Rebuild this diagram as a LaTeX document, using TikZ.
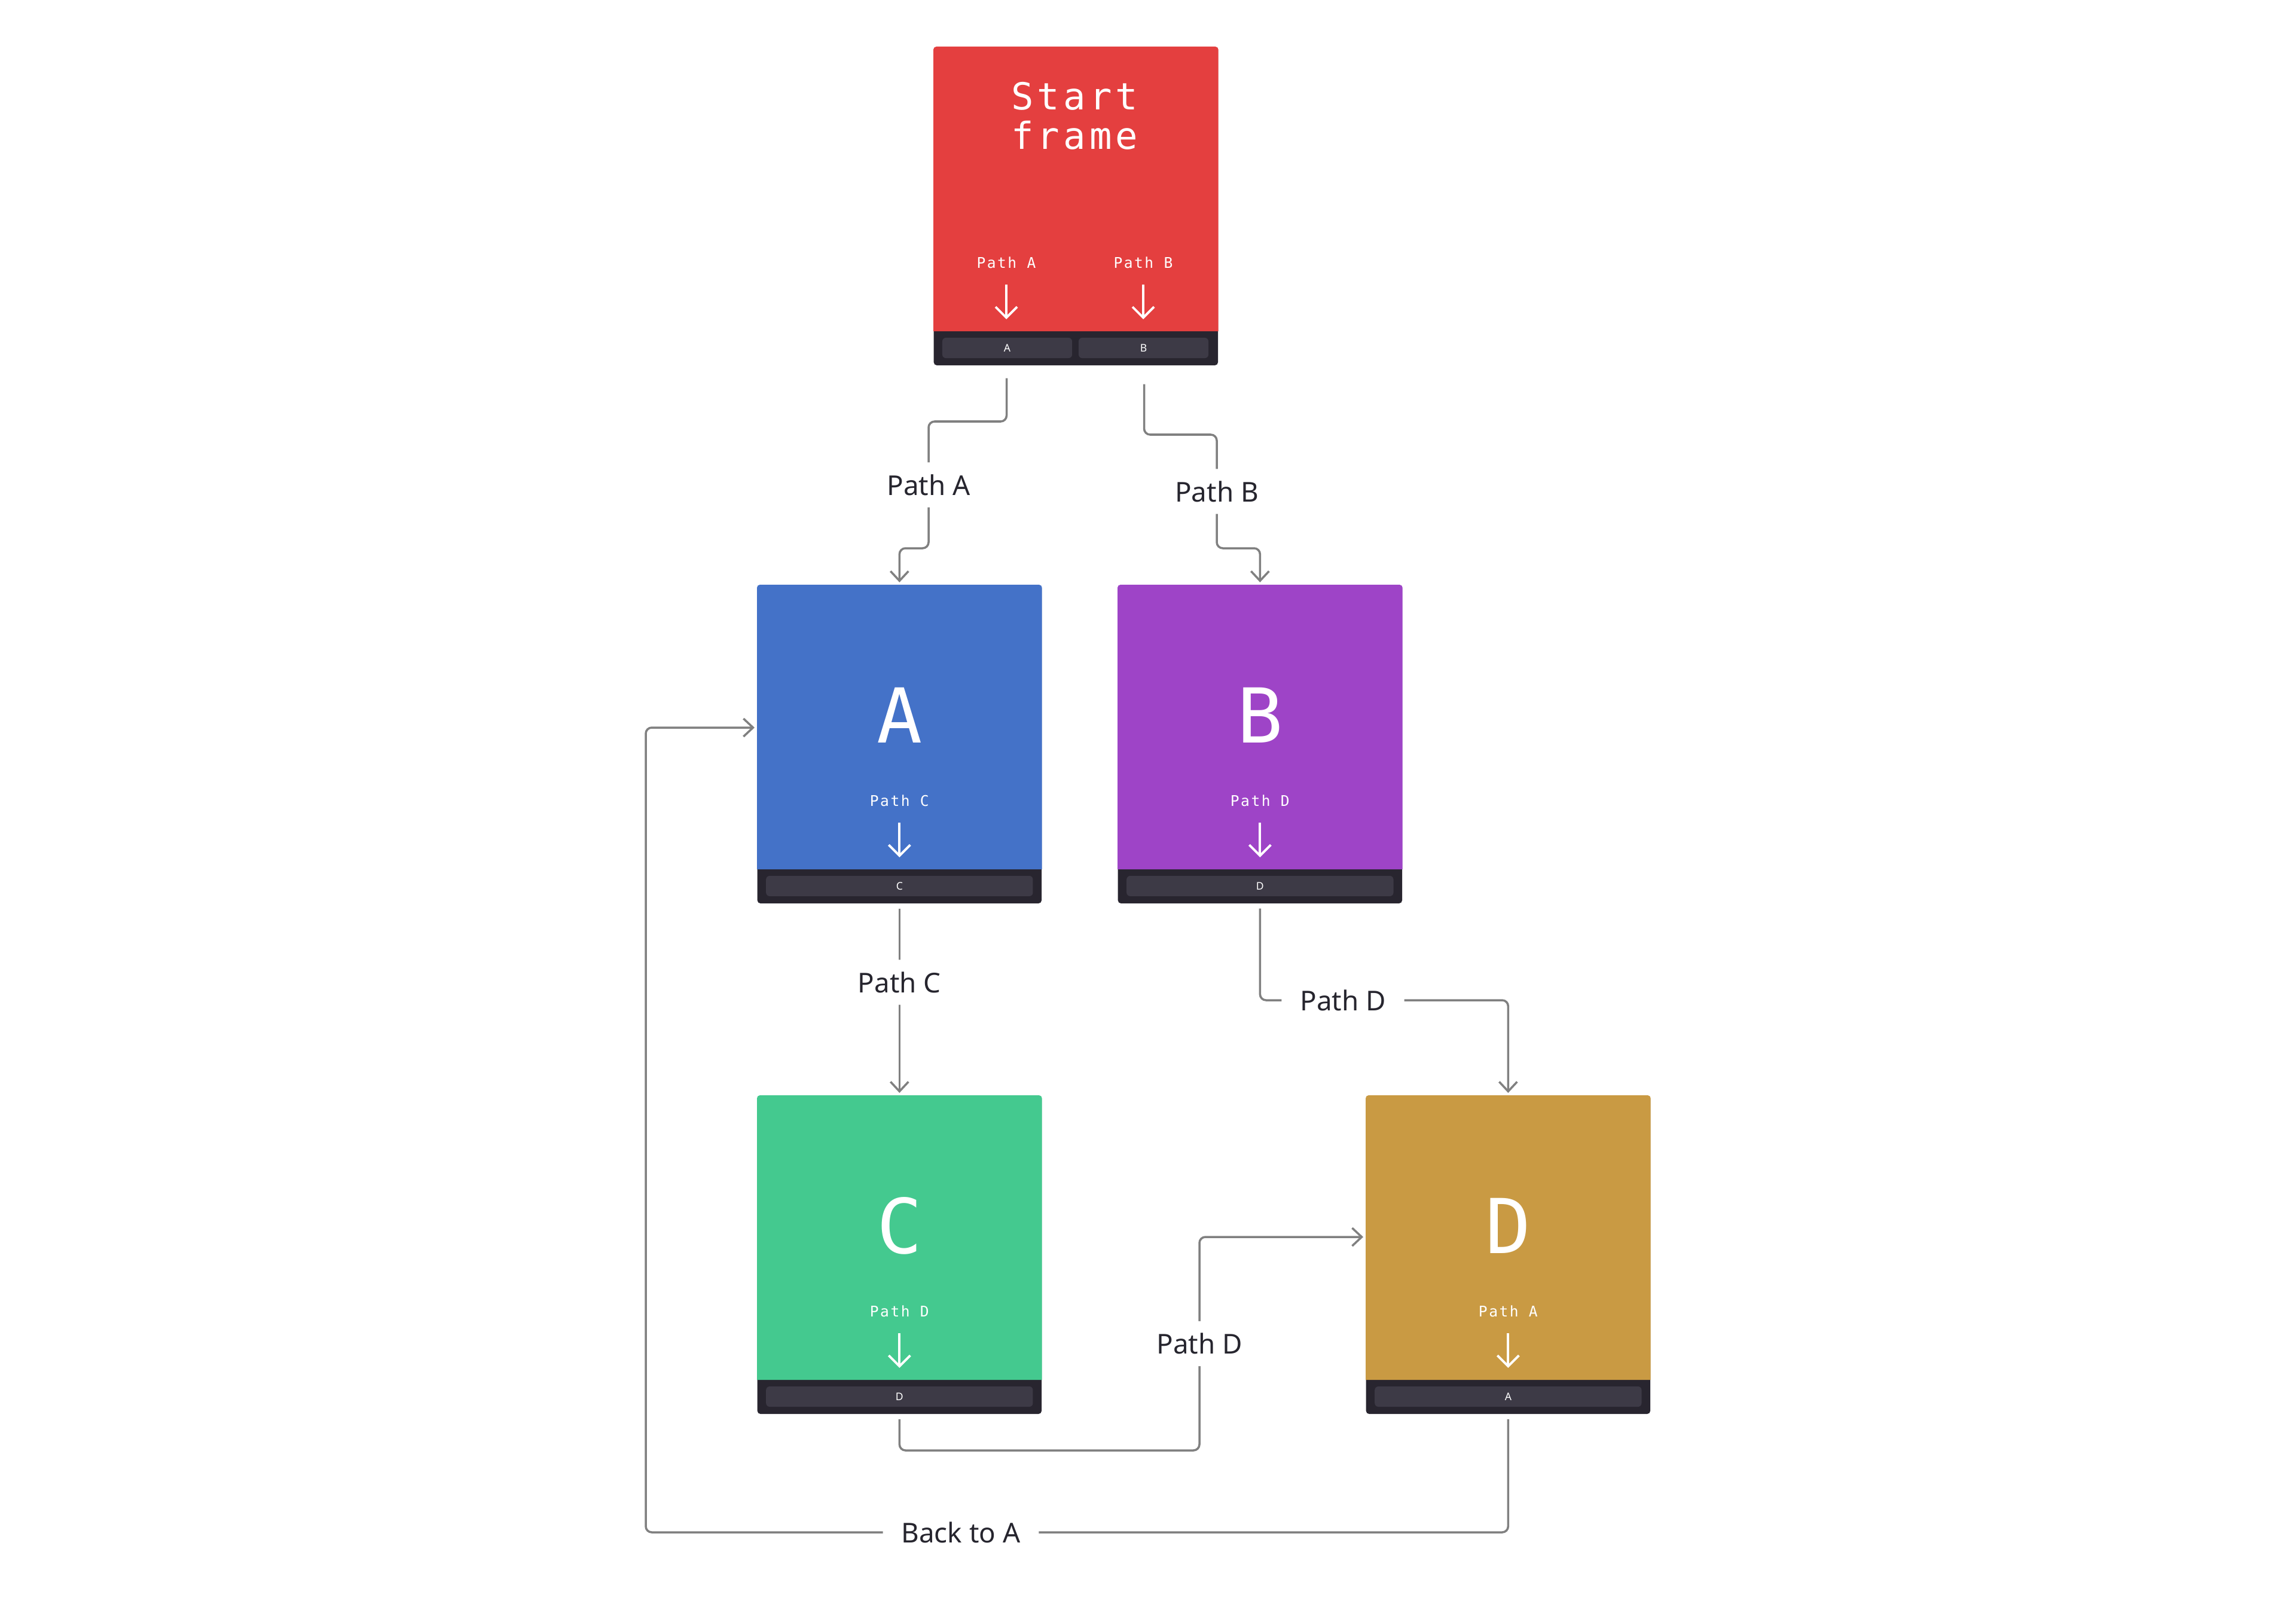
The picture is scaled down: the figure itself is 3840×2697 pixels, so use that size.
\documentclass[tikz,border=0pt]{standalone}
\usepackage{fontspec}
\setmainfont{Noto Sans}
\newfontfamily\monof[LetterSpace=10]{DejaVu Sans Mono}
\newfontfamily\bigmonof{DejaVu Sans Mono}
\usetikzlibrary{arrows.meta,calc}
\definecolor{cred}{HTML}{E43F3F}
\definecolor{cblue}{HTML}{4472C8}
\definecolor{cpurple}{HTML}{9E44C7}
\definecolor{cgreen}{HTML}{44C98F}
\definecolor{cgold}{HTML}{C99A43}
\definecolor{cbar}{HTML}{28252F}
\definecolor{cbtn}{HTML}{3D3A46}
\definecolor{cgray}{HTML}{808080}
\definecolor{ctext}{HTML}{26252E}
\tikzset{
  frame/.style={fill=cbar, rounded corners=0.05cm, minimum width=4.75cm, minimum height=5.32cm, inner sep=0pt, anchor=north west},
  btn/.style={fill=cbtn, rounded corners=0.06cm, minimum height=0.34cm, inner sep=0pt, text=white, font=\fontsize{5}{6}\selectfont},
  big/.style={text=white, font=\bigmonof\fontsize{36}{40}\selectfont, inner sep=0pt},
  title/.style={text=white, font=\monof\fontsize{17.7}{19}\selectfont, inner sep=0pt, anchor=base},
  plabel/.style={text=white, font=\monof\fontsize{7}{8}\selectfont, inner sep=0pt, anchor=base},
  warrow/.style={draw=white, line width=1.1pt, -{Straight Barb[length=0.18cm,width=0.36cm]}},
  conn/.style={draw=cgray, line width=1pt, rounded corners=0.1cm, -{Straight Barb[length=0.16cm,width=0.3cm]}},
  clabel/.style={fill=white, text=ctext, font=\fontsize{13}{15}\selectfont, inner xsep=0.31cm, inner ysep=0.2cm}
}
\newcommand{\stdframe}[6]{%
  \node[frame] (#1) at (#2,#3) {};
  \fill[#4, rounded corners=0.05cm] ($(#1.north west)+(0,476)$) -- (#1.north west) -- (#1.north east) [sharp corners] -- ($(#1.north east)+(0,476)$) -- cycle;
  \node[big] (#1-t) at ($(#1.north)+(0,218)$) {#5};
  \node[plabel] (#1-p) at ($(#1.north)+(0,370)$) {Path #6};
  \draw[warrow] ($(#1.north)+(0,398)$) -- ($(#1.north)+(0,456)$);
  \node[btn, minimum width=4.46cm] (#1-b) at ($(#1.north)+(0,504)$) {#6};
}
\begin{document}
\begin{tikzpicture}[x=0.01cm,y=-0.01cm]
\useasboundingbox[fill=white] (0,0) rectangle (3840,2697);

% start frame
\node[frame] (sf) at (1561,78) {};
\fill[cred, rounded corners=0.05cm] ($(sf.north west)+(0,476)$) -- (sf.north west) -- (sf.north east) [sharp corners] -- ($(sf.north east)+(0,476)$) -- cycle;
\node[title] (sf-t1) at ($(sf.north)+(-2,105)$) {Start};
\node[title] (sf-t2) at ($(sf.north)+(-2,171)$) {frame};
\node[plabel] (sf-pa) at ($(sf.north west)+(122,370)$) {Path A};
\node[plabel] (sf-pb) at ($(sf.north west)+(351,370)$) {Path B};
\draw[warrow] ($(sf.north west)+(122,398)$) -- ($(sf.north west)+(122,456)$);
\draw[warrow] ($(sf.north west)+(351,398)$) -- ($(sf.north west)+(351,456)$);
\node[btn, minimum width=2.17cm] (sf-ba) at ($(sf.north west)+(123.5,504)$) {A};
\node[btn, minimum width=2.17cm] (sf-bb) at ($(sf.north west)+(351.5,504)$) {B};

\stdframe{A}{1266}{978}{cblue}{A}{C}
\stdframe{B}{1869}{978}{cpurple}{B}{D}
\stdframe{C}{1266}{1832}{cgreen}{C}{D}
\stdframe{D}{2284}{1832}{cgold}{D}{A}

% connectors
\draw[conn] ($(sf-ba.south)+(-1,33)$) |- (1553,705) -- node[clabel]{Path A} (1553,917) -| ($(A.north)+(0,-4)$);
\draw[conn] ($(sf-bb.south)+(1,43)$) |- (2035,727) -- node[clabel]{Path B} (2035,917) -| ($(B.north)+(0,-4)$);
\draw[conn] ($(A.south)+(0,8)$) -- node[clabel, pos=0.4]{Path C} ($(C.north)+(0,-4)$);
\draw[conn] ($(B.south)+(0,8)$) |- (2246,1673) node[clabel]{Path D} -| ($(D.north)+(0,-4)$);
\draw[conn] ($(C.south)+(0,8)$) |- (2006,2426) |- node[clabel, pos=0.25]{Path D} ($(D.north west)+(-4,237)$);
\draw[conn] ($(D.south)+(0,8)$) |- (1607,2563) node[clabel]{Back to A} -- (1080,2563) |- ($(A.north west)+(-4,239)$);
\end{tikzpicture}
\end{document}
